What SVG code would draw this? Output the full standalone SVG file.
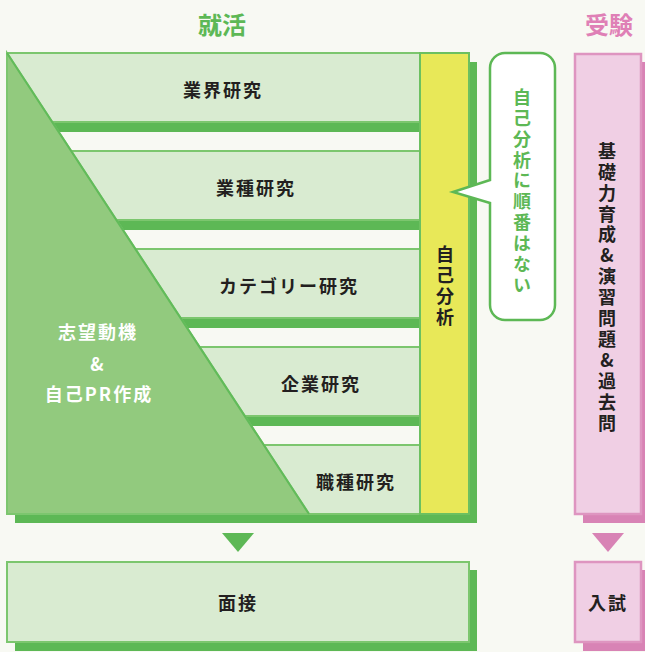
<svg xmlns="http://www.w3.org/2000/svg" width="645" height="652" viewBox="0 0 645 652">
<style>
.bg{fill:#f8f9f3}
.dk{fill:#5db855}
.row{fill:#d9ebd1;stroke:#7cc66e;stroke-width:2}
.gap{fill:#f8f9f3}
.lbl{font-family:"Noto Sans CJK JP","Noto Sans",sans-serif;font-weight:700;font-size:18px;fill:#231f20;text-anchor:middle;dominant-baseline:central;letter-spacing:2px}
.vt{font-family:"Noto Sans CJK JP","Noto Sans",sans-serif;font-weight:700;font-size:18px;writing-mode:vertical-rl;text-orientation:upright;letter-spacing:2.9px}
.ttl{font-family:"Noto Sans CJK JP","Noto Sans",sans-serif;font-weight:700;font-size:24px;text-anchor:middle;dominant-baseline:central}
.pk{fill:#f0cfe4;stroke:#de95c0;stroke-width:2.5}
.pkd{fill:#d883b5}
</style>
<rect class="bg" x="0" y="0" width="645" height="652"/>

<g id="title-shukatsu"><text class="ttl" x="222" y="23" fill="#5db855">就活</text></g>
<g id="title-juken"><text class="ttl" x="609" y="23" fill="#df80b6">受験</text></g>

<g id="shukatsu-block">
<rect class="dk" x="15" y="62" width="462" height="461"/>
<rect class="dk" x="7" y="53" width="462" height="461"/>
<rect class="gap" x="7" y="132" width="413" height="19"/>
<rect class="gap" x="7" y="230" width="413" height="19"/>
<rect class="gap" x="7" y="328" width="413" height="19"/>
<rect class="gap" x="7" y="426" width="413" height="19"/>
</g>

<g id="row-gyokai"><rect class="row" x="7" y="53" width="413" height="69"/><text class="lbl" x="223" y="89">業界研究</text></g>
<g id="row-gyoshu"><rect class="row" x="7" y="151" width="413" height="69"/><text class="lbl" x="256" y="187">業種研究</text></g>
<g id="row-category"><rect class="row" x="7" y="249" width="413" height="69"/><text class="lbl" x="289" y="285">カテゴリー研究</text></g>
<g id="row-kigyo"><rect class="row" x="7" y="347" width="413" height="69"/><text class="lbl" x="321" y="383">企業研究</text></g>
<g id="row-shokushu"><rect class="row" x="7" y="445" width="413" height="69"/><text class="lbl" x="356" y="481">職種研究</text></g>

<g id="jiko-bunseki">
<rect x="420" y="53" width="49" height="461" fill="#e8e858" stroke="#6cc060" stroke-width="2"/>
<text class="vt" x="445" y="245" fill="#231f20">自己分析</text>
</g>

<g id="shibo-doki">
<polygon points="7,53 7,514 309,514" fill="#92ca7e" stroke="#7cc66e" stroke-width="2"/>
<line x1="7" y1="53" x2="309" y2="514" stroke="#62bb5a" stroke-width="2"/>
<text class="lbl" x="98" y="331" style="fill:#ffffff">志望動機</text>
<text class="lbl" x="98" y="363" style="fill:#ffffff">&amp;</text>
<text class="lbl" x="99" y="393" style="fill:#ffffff">自己PR作成</text>
</g>

<g id="bubble">
<path d="M505,53 H540 A15,15 0 0 1 555,68 V305 A15,15 0 0 1 540,320 H505 A15,15 0 0 1 490,305 V203 L453,192 L490,180 V68 A15,15 0 0 1 505,53 Z" fill="#ffffff" stroke="#5db855" stroke-width="2.5"/>
<text class="vt" x="522" y="88" fill="#5db855">自己分析に順番はない</text>
</g>

<g id="kiso">
<rect class="pkd" x="583" y="62" width="62" height="461"/>
<rect class="pk" x="575" y="54" width="66" height="460"/>
<text class="vt" x="607" y="142" fill="#231f20">基礎力育成&amp;演習問題&amp;過去問</text>
</g>

<g id="mensetsu">
<rect class="dk" x="15" y="570" width="462" height="81"/>
<rect class="row" x="7" y="562" width="462" height="80"/>
<text class="lbl" x="238" y="602">面接</text>
</g>

<g id="nyushi">
<rect class="pkd" x="583" y="570" width="62" height="81"/>
<rect class="pk" x="575" y="562" width="66" height="80"/>
<text class="lbl" x="608" y="602">入試</text>
</g>

<g id="connectors">
<polygon points="222,533 254,533 238,552" fill="#5db855"/>
<polygon points="592,533 624,533 608,552" fill="#d883b5"/>
</g>
</svg>
